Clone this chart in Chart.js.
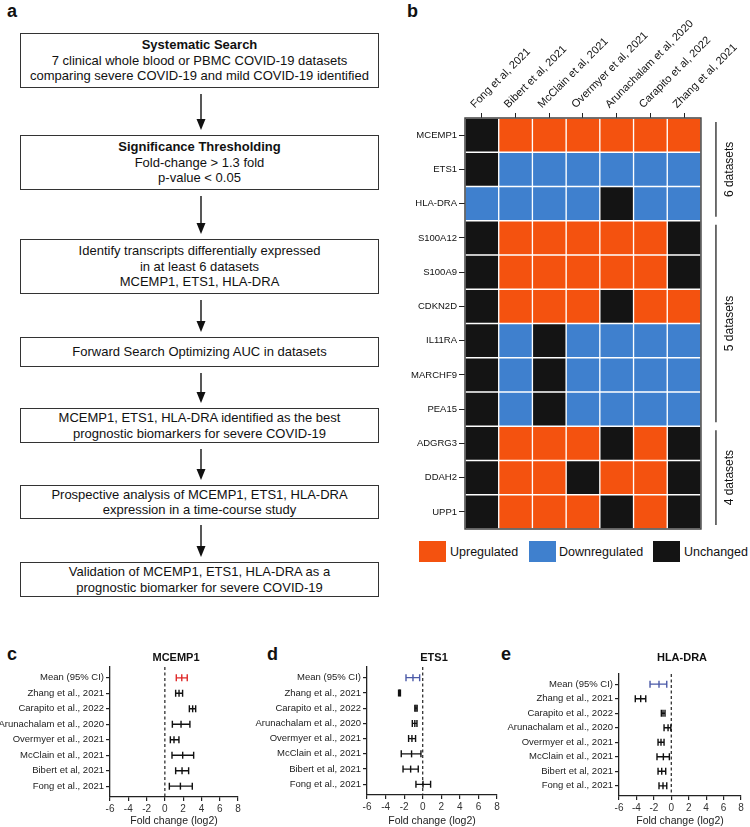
<!DOCTYPE html>
<html>
<head>
<meta charset="utf-8">
<script src="https://cdn.jsdelivr.net/npm/chart.js@4.4.1/dist/chart.umd.min.js"></script>
<style>
  body { margin:0; width:750px; height:827px; position:relative; background:#fff; overflow:hidden;
         font-family:"Liberation Sans", Arial, sans-serif; color:#111; }
  .letter { position:absolute; font-weight:bold; font-size:18px; line-height:18px; }
  .box { position:absolute; left:20px; width:359px; box-sizing:border-box; border:1.3px solid #333;
         display:flex; flex-direction:column; justify-content:center; text-align:center;
         font-size:13px; line-height:15.5px; }
  canvas { position:absolute; }
  .sw { position:absolute; width:27px; height:21px; }
  .lt { position:absolute; font-size:12.5px; line-height:14px; }
</style>
</head>
<body>
<div class="letter" style="left:7px;top:2px">a</div>
<div class="letter" style="left:407px;top:2px">b</div>
<div class="letter" style="left:7px;top:645px">c</div>
<div class="letter" style="left:267px;top:645px">d</div>
<div class="letter" style="left:501px;top:645px">e</div>

<div id="flow"></div>
<svg id="arrows" width="400" height="620" style="position:absolute;left:0;top:0"></svg>

<canvas id="heat" width="350" height="540" style="left:400px;top:0"></canvas>

<div class="sw" style="left:419px;top:541px;background:#F4520F"></div>
<div class="lt" style="left:450px;top:545px">Upregulated</div>
<div class="sw" style="left:529px;top:541px;background:#3F80CE"></div>
<div class="lt" style="left:559px;top:545px">Downregulated</div>
<div class="sw" style="left:653px;top:541px;background:#141414"></div>
<div class="lt" style="left:684px;top:545px">Unchanged</div>

<canvas id="fc1" width="250" height="187" style="left:0;top:640px"></canvas>
<canvas id="fc2" width="252" height="187" style="left:250px;top:640px"></canvas>
<canvas id="fc3" width="250" height="187" style="left:500px;top:640px"></canvas>

<script>
// ---- panel a: workflow ----
const flowText = [
  ['<b>Systematic Search</b>', '7 clinical whole blood or PBMC COVID-19 datasets', 'comparing severe COVID-19 and mild COVID-19 identified'],
  ['<b>Significance Thresholding</b>', 'Fold-change &gt; 1.3 fold', 'p-value &lt; 0.05'],
  ['Identify transcripts differentially expressed', 'in at least 6 datasets', 'MCEMP1, ETS1, HLA-DRA'],
  ['Forward Search Optimizing AUC in datasets'],
  ['MCEMP1, ETS1, HLA-DRA identified as the best', 'prognostic biomarkers for severe COVID-19'],
  ['Prospective analysis of MCEMP1, ETS1, HLA-DRA', 'expression in a time-course study'],
  ['Validation of MCEMP1, ETS1, HLA-DRA as a', 'prognostic biomarker for severe COVID-19']
];
const flowTop = [33, 135, 239, 337, 408, 485, 562];
const flowBottom = [88, 190, 294, 367, 443, 519, 597];

const flow = document.getElementById('flow');
flowText.forEach((lines, i) => {
  const d = document.createElement('div');
  d.className = 'box';
  d.style.top = flowTop[i] + 'px';
  d.style.height = (flowBottom[i] - flowTop[i]) + 'px';
  d.innerHTML = lines.map(l => '<div>' + l + '</div>').join('');
  flow.appendChild(d);
});
let svg = '';
for (let i = 0; i < flowTop.length - 1; i++) {
  const y1 = flowBottom[i] + 6, tip = flowTop[i + 1] - 5, base = tip - 11;
  svg += `<line x1="201" y1="${y1}" x2="201" y2="${base + 1}" stroke="#111" stroke-width="1.4"/>`;
  svg += `<polygon points="196.5,${base} 205.5,${base} 201,${tip}" fill="#111"/>`;
}
document.getElementById('arrows').innerHTML = svg;

// ---- panel b: heatmap ----
const studies = ['Fong et al, 2021', 'Bibert et al, 2021', 'McClain et al, 2021', 'Overmyer et al, 2021',
                 'Arunachalam et al, 2020', 'Carapito et al, 2022', 'Zhang et al, 2021'];
const genes = ['MCEMP1', 'ETS1', 'HLA-DRA', 'S100A12', 'S100A9', 'CDKN2D', 'IL11RA', 'MARCHF9', 'PEA15',
               'ADGRG3', 'DDAH2', 'UPP1'];
// U = upregulated, D = downregulated, N = unchanged (columns follow studies)
const status = ['NUUUUUU', 'NDDDDDD', 'DDDDNDD', 'NUUUUUN', 'NUUUUUN', 'NUUUNUU',
                'NDNDDDD', 'NDNDDDD', 'NDNDDDD', 'NUUUNUN', 'NUUNUUN', 'NUUUNUN'];
const statusColor = { U: '#F4520F', D: '#3F80CE', N: '#141414' };
const groups = [
  { text: '6 datasets', from: 0, to: 2 },
  { text: '5 datasets', from: 3, to: 8 },
  { text: '4 datasets', from: 9, to: 11 }
];

const frame = {
  id: 'frame',
  afterDatasetsDraw(chart) {
    const { ctx, chartArea: a } = chart;
    ctx.save();
    ctx.strokeStyle = '#444';
    ctx.lineWidth = 1.5;
    ctx.strokeRect(a.left, a.top, a.right - a.left, a.bottom - a.top);
    ctx.restore();
  }
};

const brackets = {
  id: 'brackets',
  afterDraw(chart) {
    const { ctx, chartArea: a } = chart;
    const y = chart.scales.y;
    const half = (y.getPixelForValue(1) - y.getPixelForValue(0)) / 2;
    const x = a.right + 15;
    ctx.save();
    ctx.strokeStyle = '#111';
    ctx.lineWidth = 1.2;
    ctx.fillStyle = '#111';
    ctx.font = '12px "Liberation Sans", Arial, sans-serif';
    ctx.textAlign = 'center';
    ctx.textBaseline = 'middle';
    groups.forEach(g => {
      const top = y.getPixelForValue(g.from) - half + 4;
      const bot = y.getPixelForValue(g.to) + half - 4;
      ctx.beginPath();
      ctx.moveTo(x, top);
      ctx.lineTo(x, bot);
      ctx.stroke();
      ctx.save();
      ctx.translate(x + 14, (top + bot) / 2);
      ctx.rotate(-Math.PI / 2);
      ctx.fillText(g.text, 0, 0);
      ctx.restore();
    });
    ctx.restore();
  }
};

new Chart(document.getElementById('heat'), {
  type: 'bar',
  data: {
    labels: genes,
    datasets: studies.map((s, c) => ({
      label: s,
      data: genes.map(() => 1),
      backgroundColor: genes.map((g, r) => statusColor[status[r][c]]),
      borderColor: '#fff',
      borderWidth: 1,
      borderSkipped: false,
      barPercentage: 1,
      categoryPercentage: 1
    }))
  },
  options: {
    indexAxis: 'y',
    responsive: false,
    animation: false,
    layout: { padding: { left: 0, right: 47, top: 0, bottom: 11 } },
    plugins: { legend: { display: false }, tooltip: { enabled: false } },
    scales: {
      x: {
        type: 'linear', position: 'top', stacked: true, min: 0, max: 7,
        afterBuildTicks: s => { s.ticks = studies.map((_, i) => ({ value: i + 0.5 })); },
        afterFit: s => { s.height = 118; },
        ticks: { minRotation: 45, maxRotation: 45, autoSkip: false, padding: 2, color: '#111',
                 font: { size: 11, family: '"Liberation Sans", Arial, sans-serif' },
                 callback: (v, i) => studies[i] },
        grid: { drawOnChartArea: false, drawTicks: true, tickLength: 5, color: '#222' },
        border: { display: false }
      },
      y: {
        stacked: true,
        afterFit: s => { s.width = 65; },
        ticks: { color: '#111', padding: 2, autoSkip: false,
                 font: { size: 9.5, family: '"Liberation Sans", Arial, sans-serif' } },
        grid: { offset: false, drawOnChartArea: false, tickLength: 6, color: '#222' },
        border: { display: false }
      }
    }
  },
  plugins: [frame, brackets]
});

// ---- panels c-e: forest plots ----
const forestRows = ['Mean (95% CI)', 'Zhang et al., 2021', 'Carapito et al., 2022', 'Arunachalam et al., 2020',
                    'Overmyer et al., 2021', 'McClain et al., 2021', 'Bibert et al, 2021', 'Fong et al., 2021'];
const xTicks = [-6, -4, -2, 0, 2, 4, 6, 8];

const mcempFc = [1.85, 1.55, 3.04, 1.77, 1.0, 1.95, 1.88, 1.7];
const mcempLo = [1.25, 1.18, 2.68, 0.82, 0.6, 0.78, 1.18, 0.49];
const mcempHi = [2.45, 1.94, 3.37, 2.74, 1.54, 3.15, 2.6, 3.0];

const ets1Fc = [-1.05, -2.49, -0.73, -0.85, -1.16, -1.2, -1.3, 0.03];
const ets1Lo = [-1.8, -2.6, -0.85, -1.12, -1.52, -2.31, -2.12, -0.73];
const ets1Hi = [-0.33, -2.4, -0.6, -0.62, -0.77, -0.19, -0.48, 0.85];

const hlaFc = [-1.41, -3.51, -0.95, -0.37, -1.18, -0.91, -1.1, -0.95];
const hlaLo = [-2.44, -4.13, -1.14, -0.83, -1.52, -1.64, -1.52, -1.41];
const hlaHi = [-0.52, -2.93, -0.72, -0.05, -0.83, -0.22, -0.64, -0.52];

const FONT = '"Liberation Sans", Arial, sans-serif';

const errBars = {
  id: 'errBars',
  beforeDatasetsDraw(chart) {
    // dashed line at 0
    const { ctx, chartArea: a } = chart;
    const x0 = chart.scales.x.getPixelForValue(0);
    ctx.save();
    ctx.strokeStyle = '#222';
    ctx.lineWidth = 1.2;
    ctx.setLineDash([3, 2.5]);
    ctx.beginPath();
    ctx.moveTo(x0, a.top);
    ctx.lineTo(x0, a.bottom);
    ctx.stroke();
    ctx.restore();
  },
  afterDatasetsDraw(chart) {
    const { ctx } = chart;
    const ds = chart.data.datasets[0];
    const xs = chart.scales.x, ys = chart.scales.y;
    ctx.save();
    ctx.lineWidth = 1.4;
    ds.lo.forEach((lo, i) => {
      const y = ys.getPixelForValue(i);
      const x1 = xs.getPixelForValue(lo), x2 = xs.getPixelForValue(ds.hi[i]);
      ctx.strokeStyle = ds.borderColor[i];
      ctx.beginPath();
      ctx.moveTo(x1, y); ctx.lineTo(x2, y);
      ctx.moveTo(x1, y - 3.5); ctx.lineTo(x1, y + 3.5);
      ctx.moveTo(x2, y - 3.5); ctx.lineTo(x2, y + 3.5);
      ctx.stroke();
    });
    ctx.restore();
  },
  afterDraw(chart) {
    const { ctx, chartArea: a } = chart;
    ctx.save();
    ctx.fillStyle = '#111';
    ctx.font = 'bold 11px ' + FONT;
    ctx.textAlign = 'center';
    ctx.textBaseline = 'middle';
    ctx.fillText(chart.options.plugins.panelTitle, (a.left + a.right) / 2 + 2, 18);
    ctx.restore();
  }
};

function forest(id, title, fc, lo, hi, meanColor, yWidth, pad, xHeight) {
  const colors = fc.map((_, i) => i === 0 ? meanColor : '#111');
  new Chart(document.getElementById(id), {
    type: 'scatter',
    data: {
      datasets: [{
        data: fc.map((v, i) => ({ x: v, y: i })),
        lo: lo, hi: hi,
        pointStyle: 'line', rotation: 90, radius: 3.5, hoverRadius: 3.5,
        borderWidth: 1.4, borderColor: colors, backgroundColor: colors
      }]
    },
    options: {
      responsive: false,
      animation: false,
      layout: { padding: pad },
      plugins: { legend: { display: false }, tooltip: { enabled: false }, panelTitle: title },
      scales: {
        x: {
          type: 'linear', min: -6, max: 8,
          afterBuildTicks: s => { s.ticks = xTicks.map(v => ({ value: v })); },
          afterFit: s => { s.height = xHeight; },
          ticks: { color: '#333', padding: 2, font: { size: 10, family: FONT } },
          grid: { drawOnChartArea: false, tickLength: 4, color: '#222', lineWidth: 1.2 },
          border: { color: '#222', width: 1.3 },
          title: { display: true, text: 'Fold change (log2)', color: '#222',
                   font: { size: 10.5, family: FONT }, padding: { top: 0, bottom: 0 } }
        },
        y: {
          type: 'linear', min: -0.7, max: 7.7, reverse: true,
          afterBuildTicks: s => { s.ticks = forestRows.map((_, i) => ({ value: i })); },
          afterFit: s => { s.width = yWidth; },
          ticks: { color: '#222', padding: 2, autoSkip: false, font: { size: 9.5, family: FONT },
                   callback: (v, i) => forestRows[i] },
          grid: { drawOnChartArea: false, tickLength: 4, color: '#222', lineWidth: 1.2 },
          border: { color: '#222', width: 1.3 }
        }
      }
    },
    plugins: [errBars]
  });
}

forest('fc1', 'MCEMP1', mcempFc, mcempLo, mcempHi, '#E02A2A', 110, { left: 0, right: 12, top: 27, bottom: 0 }, 30);
forest('fc2', 'ETS1', ets1Fc, ets1Lo, ets1Hi, '#4B5AA8', 117, { left: 0, right: 5, top: 27, bottom: 0 }, 32);
forest('fc3', 'HLA-DRA', hlaFc, hlaLo, hlaHi, '#4B5AA8', 119, { left: 0, right: 9, top: 34, bottom: 0 }, 31);
</script>
</body>
</html>
